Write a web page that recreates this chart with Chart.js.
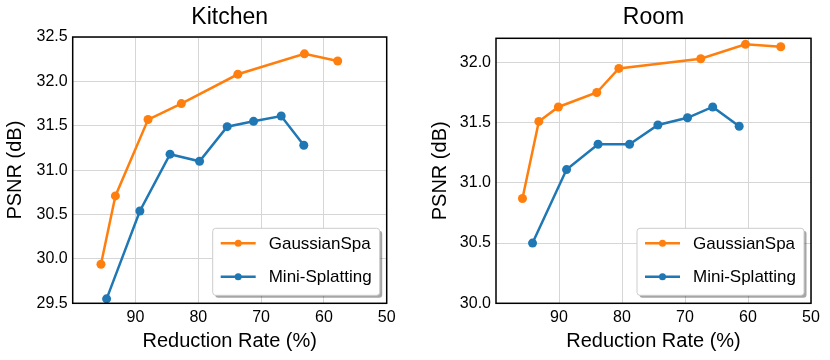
<!DOCTYPE html>
<html>
<head>
<meta charset="utf-8">
<script src="https://cdn.jsdelivr.net/npm/chart.js@4.4.1/dist/chart.umd.min.js"></script>
<style>
  body { margin: 0; background: #fff; width: 830px; height: 360px; overflow: hidden; position: relative; }
  .panel { position: absolute; top: 0; width: 415px; height: 360px; }
</style>
</head>
<body>
<div class="panel" style="left:0"><canvas id="kitchen" width="415" height="360"></canvas></div>
<div class="panel" style="left:415px"><canvas id="room" width="415" height="360"></canvas></div>
<script>
// values
const seriesNames = ["GaussianSpa", "Mini-Splatting"];
const xTicks = [90, 80, 70, 60, 50];

const kitchenGsX = [95.5, 93.2, 88.0, 82.7, 73.7, 63.1, 57.8];
const kitchenGsY = [29.94, 30.71, 31.57, 31.75, 32.08, 32.31, 32.23];
const kitchenMsX = [94.6, 89.3, 84.5, 79.8, 75.4, 71.2, 66.8, 63.2];
const kitchenMsY = [29.55, 30.54, 31.18, 31.10, 31.49, 31.55, 31.61, 31.28];
const kitchenYTicks = [29.5, 30.0, 30.5, 31.0, 31.5, 32.0, 32.5];

const roomGsX = [95.8, 93.2, 90.1, 84.0, 80.5, 67.5, 60.4, 54.8];
const roomGsY = [30.87, 31.51, 31.63, 31.75, 31.95, 32.03, 32.15, 32.13];
const roomMsX = [94.2, 88.8, 83.8, 78.8, 74.3, 69.6, 65.6, 61.4];
const roomMsY = [30.50, 31.11, 31.32, 31.32, 31.48, 31.54, 31.63, 31.47];
const roomYTicks = [30.0, 30.5, 31.0, 31.5, 32.0];

const orange = "#ff7f0e";
const blue = "#1f77b4";
const font = "'Liberation Sans', Arial, sans-serif";

Chart.defaults.font.family = font;
Chart.defaults.color = "#000";

function points(xs, ys) {
  return xs.map((x, i) => ({ x, y: ys[i] }));
}

const titlePlugin = {
  id: "panelTitle",
  afterDraw(chart) {
    const { ctx, chartArea: a } = chart;
    ctx.save();
    ctx.font = `23px ${font}`;
    ctx.fillStyle = "#000";
    ctx.textAlign = "center";
    ctx.textBaseline = "middle";
    ctx.fillText(chart.options.plugins.panelTitle.text, (a.left + a.right) / 2, 18);
    ctx.restore();
  },
};

const framePlugin = {
  id: "frame",
  afterDatasetsDraw(chart) {
    const { ctx, chartArea: a } = chart;
    ctx.save();
    ctx.strokeStyle = "#000";
    ctx.lineWidth = 1.5;
    ctx.strokeRect(a.left, a.top, a.right - a.left, a.bottom - a.top);
    ctx.restore();
  },
};

function roundRect(ctx, x, y, w, h, r) {
  ctx.beginPath();
  ctx.moveTo(x + r, y);
  ctx.arcTo(x + w, y, x + w, y + h, r);
  ctx.arcTo(x + w, y + h, x, y + h, r);
  ctx.arcTo(x, y + h, x, y, r);
  ctx.arcTo(x, y, x + w, y, r);
  ctx.closePath();
}

const legendPlugin = {
  id: "boxLegend",
  afterDraw(chart) {
    const { ctx, chartArea: a } = chart;
    const w = 167, h = 67;
    const x = a.right - 7 - w, y = a.bottom - 8 - h;
    ctx.save();
    ctx.fillStyle = "rgba(0,0,0,0.35)";
    roundRect(ctx, x + 2.5, y + 2.5, w, h, 3);
    ctx.fill();
    ctx.fillStyle = "#fff";
    roundRect(ctx, x, y, w, h, 3);
    ctx.fill();
    ctx.strokeStyle = "#cccccc";
    ctx.lineWidth = 1;
    ctx.stroke();
    chart.data.datasets.forEach((ds, i) => {
      const cy = y + 15 + i * 33.5;
      ctx.strokeStyle = ds.borderColor;
      ctx.lineWidth = 2.5;
      ctx.beginPath();
      ctx.moveTo(x + 8, cy);
      ctx.lineTo(x + 43, cy);
      ctx.stroke();
      ctx.fillStyle = ds.borderColor;
      ctx.beginPath();
      ctx.arc(x + 25.5, cy, 3.5, 0, Math.PI * 2);
      ctx.fill();
      ctx.fillStyle = "#000";
      ctx.font = `17px ${font}`;
      ctx.textBaseline = "middle";
      ctx.fillText(ds.label, x + 56, cy + 1);
    });
    ctx.restore();
  },
};

function dataset(label, color, data) {
  return {
    label,
    data,
    borderColor: color,
    backgroundColor: color,
    borderWidth: 2.5,
    pointRadius: 4.5,
    pointHoverRadius: 4.5,
    pointBorderWidth: 0,
    tension: 0,
  };
}

function makeChart(id, opt) {
  return new Chart(document.getElementById(id), {
    type: "line",
    data: {
      datasets: [
        dataset(seriesNames[0], orange, points(opt.gsX, opt.gsY)),
        dataset(seriesNames[1], blue, points(opt.msX, opt.msY)),
      ],
    },
    options: {
      responsive: false,
      animation: false,
      devicePixelRatio: 1,
      layout: { padding: { left: 0, right: opt.padRight, top: opt.top, bottom: 0 } },
      plugins: {
        legend: { display: false },
        tooltip: { enabled: false },
        panelTitle: { text: opt.title },
      },
      scales: {
        x: {
          type: "linear",
          reverse: true,
          min: 50,
          max: 100,
          afterBuildTicks: (s) => { s.ticks = xTicks.map((v) => ({ value: v })); },
          afterFit: (s) => { s.height = 360 - opt.bottom; },
          grid: { color: "#d6d6d6", lineWidth: 1, drawTicks: false },
          border: { display: false },
          ticks: { font: { size: 16 }, padding: 5, maxRotation: 0 },
          title: { display: true, text: "Reduction Rate (%)", font: { size: 20 }, padding: { top: 0, bottom: 7 } },
        },
        y: {
          type: "linear",
          min: opt.yMin,
          max: opt.yMax,
          afterBuildTicks: (s) => { s.ticks = opt.yTicks.map((v) => ({ value: v })); },
          afterFit: (s) => { s.width = opt.left; },
          grid: { color: "#d6d6d6", lineWidth: 1, drawTicks: false },
          border: { display: false },
          ticks: { font: { size: 16 }, padding: 5, callback: (v) => Number(v).toFixed(1) },
          title: { display: true, text: "PSNR (dB)", font: { size: 20 }, padding: { top: opt.yTitlePad, bottom: 0 } },
        },
      },
    },
    plugins: [framePlugin, titlePlugin, legendPlugin],
  });
}

makeChart("kitchen", {
  title: "Kitchen",
  gsX: kitchenGsX, gsY: kitchenGsY, msX: kitchenMsX, msY: kitchenMsY,
  yMin: 29.5, yMax: 32.5, yTicks: kitchenYTicks,
  left: 72.7, padRight: 28.3, top: 37, bottom: 303.3, yTitlePad: 3,
});

makeChart("room", {
  title: "Room",
  gsX: roomGsX, gsY: roomGsY, msX: roomMsX, msY: roomMsY,
  yMin: 30.0, yMax: 32.2, yTicks: roomYTicks,
  left: 81, padRight: 19, top: 38.3, bottom: 303.3, yTitlePad: 13,
});
</script>
</body>
</html>
